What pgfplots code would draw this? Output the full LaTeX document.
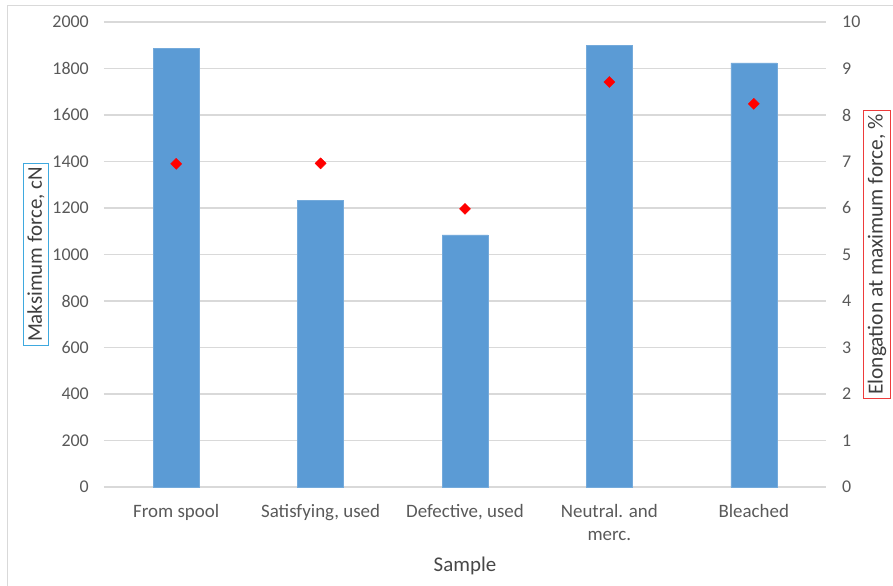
\documentclass[border=0pt]{standalone}
\usepackage{pgfplots}
\pgfplotsset{compat=1.18}
\usepackage{fontspec}
\setmainfont{Carlito}
\definecolor{barblue}{HTML}{5B9BD5}
\definecolor{gridgray}{HTML}{D9D9D9}
\definecolor{ticktext}{HTML}{595959}
\definecolor{lblue}{HTML}{3FA9DF}
\definecolor{boxred}{HTML}{EE3B3B}
\begin{document}
\begin{tikzpicture}
\useasboundingbox (-104bp,-99bp) rectangle (789bp,487bp);
\draw[gridgray, line width=1bp] (-96bp,-99bp) -- (-96bp,481bp) -- (789bp,481bp);
\begin{axis}[
  at={(0,0)}, anchor=south west,
  scale only axis, width=722bp, height=465bp,
  xmin=-0.5, xmax=4.5, ymin=0, ymax=2000,
  ytick={0,200,...,2000},
  xtick={0,1,2,3,4},
  xticklabels={From spool, {Satisfying, used}, {Defective, used}, {Neutral. and\\merc.}, Bleached},
  axis y line*=left, axis x line*=bottom,
  axis line style={draw=none},
  major tick length=0pt, tick style={draw=none},
  ymajorgrids, grid style={gridgray, line width=1.2bp},
  /pgf/number format/1000 sep={},
  /pgf/number format/assume math mode=true,
  yticklabel style={font=\fontsize{18}{21}\selectfont, color=ticktext, inner sep=0pt, xshift=-15bp},
  xticklabel style={font=\fontsize{19}{23}\selectfont, color=ticktext, inner sep=0pt, yshift=-17bp, align=center},
  xlabel={Sample},
  xlabel style={font=\fontsize{21}{25}\selectfont, color=ticktext!80!black, at={(axis description cs:0.5,-0.17)}, anchor=center},
  ylabel={Maksimum force, cN},
  ylabel style={font=\fontsize{21}{25}\selectfont, color=ticktext!70!black, at={(axis description cs:-0.0942,0.5)}, anchor=center, draw=lblue, line width=1bp, inner sep=4bp},
]
\addplot[ybar, bar width=46bp, fill=barblue, draw=barblue!85!white] coordinates {
  (0,1888) (1,1234) (2,1084) (3,1901) (4,1824)
};
\end{axis}
\begin{axis}[
  at={(0,0)}, anchor=south west,
  scale only axis, width=722bp, height=465bp,
  xmin=-0.5, xmax=4.5, ymin=0, ymax=10,
  ytick={0,1,...,10},
  axis y line*=right, axis x line=none,
  axis line style={draw=none},
  major tick length=0pt, tick style={draw=none},
  /pgf/number format/assume math mode=true,
  yticklabel style={font=\fontsize{18}{21}\selectfont, color=ticktext, inner sep=0pt, xshift=16bp},
  ylabel={Elongation at maximum force, \%},
  ylabel style={font=\fontsize{21.5}{25}\selectfont, color=ticktext!70!black, at={(axis description cs:1.0706,0.5)}, anchor=center, draw=boxred, line width=1bp, inner sep=4bp},
]
\addplot[only marks, mark=square*, mark size=3.9bp, mark options={rotate=45, fill=red, draw=red}] coordinates {
  (0,6.95) (1,6.96) (2,5.98) (3,8.71) (4,8.24)
};
\end{axis}
\end{tikzpicture}
\end{document}
